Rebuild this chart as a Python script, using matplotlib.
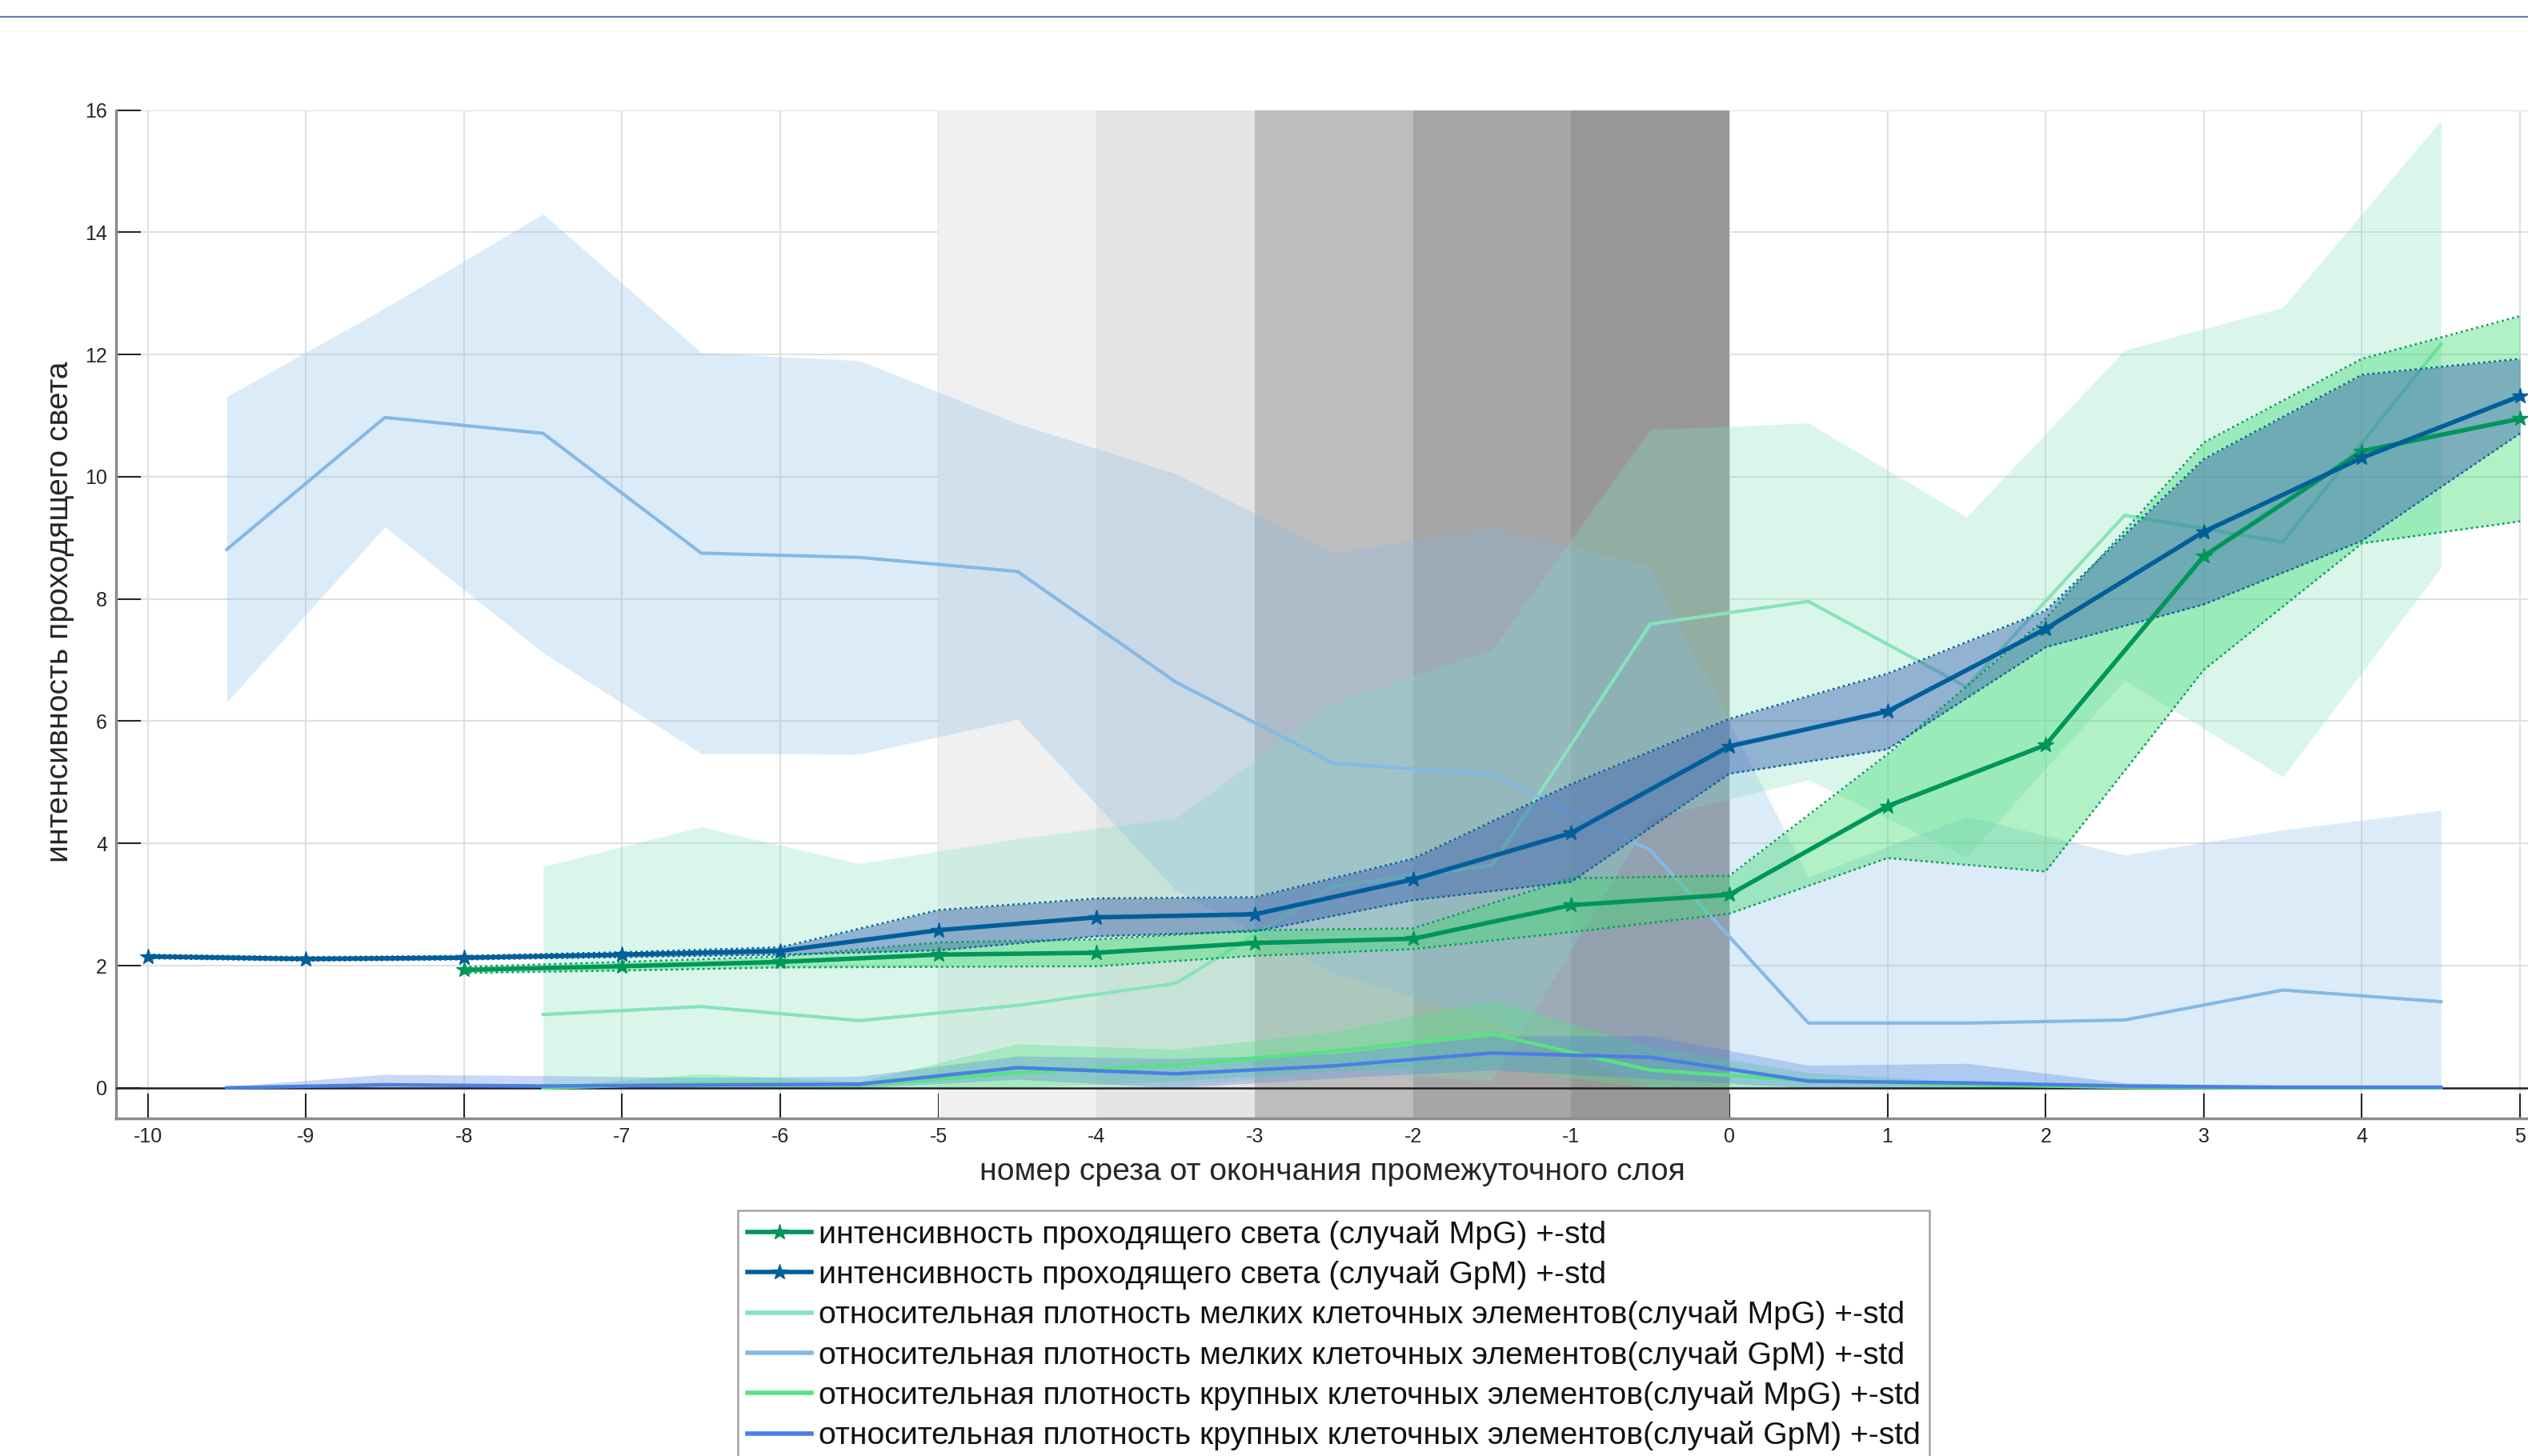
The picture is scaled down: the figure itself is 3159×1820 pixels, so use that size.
import numpy as np
import matplotlib
matplotlib.use('Agg')
import matplotlib.pyplot as plt
from matplotlib.lines import Line2D

plt.rcParams['font.family'] = ['Liberation Sans', 'DejaVu Sans']
plt.rcParams['axes.unicode_minus'] = False

# ---------------- data ----------------
x_int_mpg = [-8, -7, -6, -5, -4, -3, -2, -1, 0, 1, 2, 3, 4, 5]
int_mpg = [1.93, 1.99, 2.06, 2.18, 2.21, 2.37, 2.44, 2.99, 3.16, 4.61, 5.61, 8.70, 10.42, 10.95]
int_mpg_std = [0.05, 0.07, 0.09, 0.20, 0.22, 0.21, 0.17, 0.44, 0.31, 0.85, 2.07, 1.86, 1.51, 1.68]

x_int_gpm = [-10, -9, -8, -7, -6, -5, -4, -3, -2, -1, 0, 1, 2, 3, 4, 5]
int_gpm = [2.15, 2.11, 2.13, 2.18, 2.24, 2.58, 2.79, 2.84, 3.41, 4.17, 5.59, 6.16, 7.51, 9.10, 10.31, 11.32]
int_gpm_std = [0.03, 0.03, 0.03, 0.04, 0.06, 0.33, 0.31, 0.28, 0.34, 0.80, 0.45, 0.62, 0.30, 1.19, 1.36, 0.61]

x_small_mpg = [-7.5, -6.5, -5.5, -4.5, -3.5, -2.5, -1.5, -0.5, 0.5, 1.5, 2.5, 3.5, 4.5]
small_mpg = [1.20, 1.33, 1.10, 1.35, 1.71, 3.30, 3.64, 7.59, 7.96, 6.56, 9.37, 8.93, 12.17]
small_mpg_std = [2.42, 2.94, 2.57, 2.73, 2.70, 3.00, 3.53, 3.18, 2.92, 2.78, 2.70, 3.84, 3.66]

x_small_gpm = [-9.5, -8.5, -7.5, -6.5, -5.5, -4.5, -3.5, -2.5, -1.5, -0.5, 0.5, 1.5, 2.5, 3.5, 4.5]
small_gpm = [8.81, 10.97, 10.71, 8.75, 8.68, 8.45, 6.64, 5.31, 5.13, 3.89, 1.06, 1.06, 1.11, 1.60, 1.41]
small_gpm_std = [2.50, 1.79, 3.59, 3.28, 3.22, 2.42, 3.41, 3.44, 4.03, 4.64, 2.39, 3.38, 2.70, 2.62, 3.13]

x_big_mpg = [-7.5, -6.5, -5.5, -4.5, -3.5, -2.5, -1.5, -0.5, 0.5, 1.5, 2.5, 3.5, 4.5]
big_mpg = [0.00, 0.07, 0.04, 0.25, 0.37, 0.60, 0.88, 0.29, 0.12, 0.05, 0.01, 0.00, 0.00]
big_mpg_std = [0.02, 0.16, 0.06, 0.47, 0.26, 0.32, 0.55, 0.38, 0.13, 0.05, 0.02, 0.005, 0.005]

x_big_gpm = [-9.5, -8.5, -7.5, -6.5, -5.5, -4.5, -3.5, -2.5, -1.5, -0.5, 0.5, 1.5, 2.5, 3.5, 4.5]
big_gpm = [0.00, 0.05, 0.03, 0.045, 0.06, 0.33, 0.23, 0.36, 0.57, 0.50, 0.11, 0.08, 0.03, 0.01, 0.01]
big_gpm_std = [0.02, 0.17, 0.17, 0.125, 0.13, 0.19, 0.25, 0.20, 0.28, 0.35, 0.26, 0.32, 0.05, 0.02, 0.01]

# shaded layer slices (x ranges) and their grey tones
layer_edges = [-5, -4, -3, -2, -1, 0]
layer_colors = ['#f0f0f0', '#e4e4e4', '#bdbdbd', '#a6a6a6', '#989898']

labels = [
    'интенсивность проходящего света (случай MpG) +-std',
    'интенсивность проходящего света (случай GpM) +-std',
    'относительная плотность мелких клеточных элементов(случай MpG) +-std',
    'относительная плотность мелких клеточных элементов(случай GpM) +-std',
    'относительная плотность крупных клеточных элементов(случай MpG) +-std',
    'относительная плотность крупных клеточных элементов(случай GpM) +-std',
]
xlabel = 'номер среза от окончания промежуточного слоя'
ylabel = 'интенсивность проходящего света'

# ---------------- styles ----------------
c_mpg = '#00965a'
c_gpm = '#005f9a'
c_small_mpg = '#86e3bd'
c_small_gpm = '#84b9e6'
c_big_mpg = '#58e283'
c_big_gpm = '#4a7fe3'

W, H = 3159, 1820
fig = plt.figure(figsize=(W / 100, H / 100), dpi=100)
ax_left, ax_right = 145, 3159
ax_top, ax_bot = 137.6, 1398
ax = fig.add_axes([ax_left / W, 1 - ax_bot / H, (ax_right - ax_left) / W, (ax_bot - ax_top) / H])
ax.set_xlim(-10.2, 5.05)
ax.set_ylim(-0.5, 16)

ax.set_axisbelow(True)
ax.grid(True, color='#e0e0e0', lw=1.5)
ax.set_xticks(range(-10, 6))
ax.set_yticks(range(0, 17, 2))
ax.tick_params(direction='in', length=22, width=1.5, color='#262626',
               labelsize=18, labelcolor='#262626', pad=8)
for s in ['top', 'right']:
    ax.spines[s].set_visible(False)
for s in ['left', 'bottom']:
    ax.spines[s].set_color('#8c8c8c')
    ax.spines[s].set_linewidth(2.5)

# grey layer bands
for i, c in enumerate(layer_colors):
    ax.axvspan(layer_edges[i], layer_edges[i + 1], color=c, lw=0, zorder=1)


def clipped_band(x, m, s, color, alpha):
    m = np.asarray(m)
    s = np.asarray(s)
    ax.fill_between(x, np.clip(m - s, 0, None), m + s, color=color, alpha=alpha, lw=0, zorder=2)


# density series (+-std)
clipped_band(x_small_mpg, small_mpg, small_mpg_std, c_small_mpg, 0.30)
clipped_band(x_small_gpm, small_gpm, small_gpm_std, c_small_gpm, 0.28)
clipped_band(x_big_mpg, big_mpg, big_mpg_std, c_big_mpg, 0.35)
clipped_band(x_big_gpm, big_gpm, big_gpm_std, c_big_gpm, 0.30)

ax.axhline(0, color='#222222', lw=1.8, zorder=2.6)

ax.plot(x_small_mpg, small_mpg, color=c_small_mpg, lw=3, zorder=3)
ax.plot(x_small_gpm, small_gpm, color=c_small_gpm, lw=3, zorder=3)
ax.plot(x_big_mpg, big_mpg, color=c_big_mpg, lw=3.2, zorder=3)
ax.plot(x_big_gpm, big_gpm, color=c_big_gpm, lw=3.2, zorder=3)

# intensity series with +-std bands
for x, m, s, line_c, fill_c, a in [
        (x_int_mpg, int_mpg, int_mpg_std, c_mpg, '#3cdc6e', 0.40),
        (x_int_gpm, int_gpm, int_gpm_std, c_gpm, '#3a5fb0', 0.45)]:
    m = np.asarray(m)
    s = np.asarray(s)
    ax.fill_between(x, m - s, m + s, color=fill_c, alpha=a, lw=0, zorder=3.2)
    ax.plot(x, m + s, color=line_c, lw=1.8, ls=':', zorder=3.3)
    ax.plot(x, m - s, color=line_c, lw=1.8, ls=':', zorder=3.3)

ax.plot(x_int_mpg, int_mpg, color=c_mpg, lw=4, marker='*', ms=15, zorder=4)
ax.plot(x_int_gpm, int_gpm, color=c_gpm, lw=4, marker='*', ms=15, zorder=4)

# labels (fit font size to reference label width)
xl = fig.text(1665 / W, 1 - 1465 / H, xlabel, ha='center', va='center', fontsize=20, color='#262626')
fig.canvas.draw()
w = xl.get_window_extent().width
fs = 20 * 879 / w
xl.set_fontsize(fs)
fig.text(75 / W, 1 - 765 / H, ylabel, rotation=90, ha='center', va='center', fontsize=fs, color='#262626')

handles = [
    Line2D([], [], color=c_mpg, lw=4, marker='*', ms=15),
    Line2D([], [], color=c_gpm, lw=4, marker='*', ms=15),
    Line2D([], [], color=c_small_mpg, lw=4),
    Line2D([], [], color=c_small_gpm, lw=4),
    Line2D([], [], color=c_big_mpg, lw=4),
    Line2D([], [], color=c_big_gpm, lw=4),
]
leg = fig.legend(handles, labels, loc='upper left', bbox_to_anchor=(922 / W, 1 - 1513 / H),
                 borderaxespad=0, fontsize=fs, frameon=True, fancybox=False,
                 handlelength=2.05, handletextpad=0.22, labelspacing=0.34, borderpad=0.3)
leg.get_frame().set_edgecolor('#8c8c8c')
leg.get_frame().set_linewidth(1.8)
for t in leg.get_texts():
    t.set_color('#111111')

# thin separator line at the very top of the figure
fig.add_artist(Line2D([0, 1], [1 - 21 / H, 1 - 21 / H], color='#5b7fb5', lw=1.6))

fig.savefig('out.png', dpi=100)
